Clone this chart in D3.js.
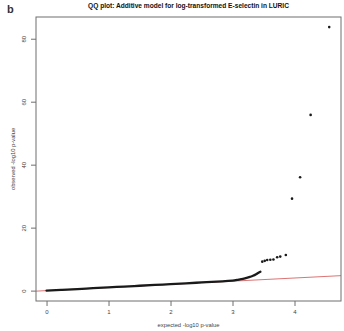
<!DOCTYPE html>
<html><head><meta charset="utf-8">
<script src="https://cdn.jsdelivr.net/npm/d3@7"></script>
<style>body{margin:0;background:#fff}svg{display:block}text{font-family:"Liberation Sans",Arial,sans-serif}</style>
</head><body>
<svg id="c" width="344" height="331"></svg>
<script>
// Dense part of the QQ curve (expected vs observed -log10 p)
const denseExpected = [0, 0.25, 0.5, 0.75, 1, 1.25, 1.5, 1.75, 2, 2.25, 2.5, 2.75, 3, 3.1, 3.2, 3.28, 3.33, 3.38, 3.42, 3.45];
const denseObserved = [0, 0.25, 0.5, 0.77, 1.03, 1.28, 1.54, 1.8, 2.06, 2.32, 2.6, 2.88, 3.15, 3.5, 3.9, 4.35, 4.7, 5.2, 5.7, 6.0];
// Top-ranked individual points
const tailExpected = [4.56, 4.26, 4.09, 3.96, 3.86, 3.77, 3.72, 3.66, 3.61, 3.56, 3.52, 3.48];
const tailObserved = [83.7, 55.8, 36.0, 29.2, 11.3, 10.8, 10.6, 9.9, 9.8, 9.7, 9.45, 9.2];
const xTicks = [0, 1, 2, 3, 4];
const yTicks = [0, 20, 40, 60, 80];
const titleText = "QQ plot: Additive model for log-transformed E-selectin in LURIC";
const xLabel = "expected -log10 p-value";
const yLabel = "observed -log10 p-value";
const panelLabel = "b";

const svg = d3.select("#c");
const L = 36, R = 341, T = 17, B = 301;
const x = d3.scaleLinear().domain([-0.17, 4.75]).range([L, R]);
const y = d3.scaleLinear().domain([-3.3, 86.9]).range([B, T]);
const axisCol = "#6f6f6f", textCol = "#444";

svg.append("clipPath").attr("id","clip").append("rect")
  .attr("x",L).attr("y",T).attr("width",R-L).attr("height",B-T);

// red reference line y = x
svg.append("line").attr("clip-path","url(#clip)")
  .attr("x1", x(-0.17)).attr("y1", y(-0.17))
  .attr("x2", x(4.75)).attr("y2", y(4.75))
  .attr("stroke","#dc7474").attr("stroke-width",1);

// dense curve
const dense = denseExpected.map((e,i)=>[e, denseObserved[i]]);
svg.append("path").datum(dense)
  .attr("d", d3.line().x(d=>x(d[0])).y(d=>y(d[1])).curve(d3.curveMonotoneX))
  .attr("fill","none").attr("stroke","#1a1a1a").attr("stroke-width",2.3)
  .attr("stroke-linecap","round");

// tail points
svg.selectAll("circle.t").data(tailExpected.map((e,i)=>[e, tailObserved[i]]))
  .enter().append("circle").attr("class","t")
  .attr("cx", d=>x(d[0])).attr("cy", d=>y(d[1])).attr("r",1.3).attr("fill","#1a1a1a");

// box
svg.append("rect").attr("x",L).attr("y",T).attr("width",R-L).attr("height",B-T)
  .attr("fill","none").attr("stroke",axisCol).attr("stroke-width",1);

// x axis
const xa = svg.append("g").attr("transform",`translate(0,${B})`)
  .call(d3.axisBottom(x).tickValues(xTicks).tickSize(5).tickPadding(4).tickFormat(d3.format("d")));
xa.select(".domain").remove();
xa.selectAll("line").attr("stroke",axisCol);
xa.selectAll("text").attr("fill",textCol).attr("font-size",6);

// y axis
const ya = svg.append("g").attr("transform",`translate(${L},0)`)
  .call(d3.axisLeft(y).tickValues(yTicks).tickSize(5).tickFormat(d3.format("d")));
ya.select(".domain").remove();
ya.selectAll("line").attr("stroke",axisCol);
ya.selectAll("text").attr("fill",textCol).attr("font-size",6)
  .attr("x",null).attr("dy",null)
  .attr("text-anchor","middle")
  .attr("transform","translate(-10,0) rotate(-90)");

// labels
svg.append("text").attr("x",188.5).attr("y",7.5).attr("text-anchor","middle")
  .attr("font-size",6.6).attr("font-weight","bold").attr("fill","#111").text(titleText);
svg.append("text").attr("x",188.5).attr("y",327).attr("text-anchor","middle")
  .attr("font-size",5.8).attr("fill",textCol).text(xLabel);
svg.append("text").attr("transform","translate(15,159) rotate(-90)").attr("text-anchor","middle")
  .attr("font-size",5.8).attr("fill",textCol).text(yLabel);
svg.append("text").attr("x",7).attr("y",13).attr("font-size",11).attr("font-weight","bold")
  .attr("fill","#333").text(panelLabel);
</script>
</body></html>
